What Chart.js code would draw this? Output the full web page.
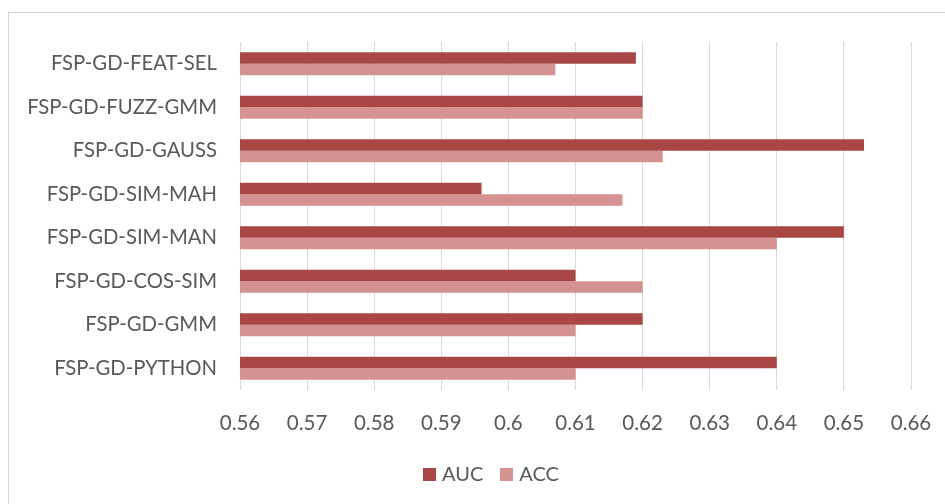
<!DOCTYPE html>
<html>
<head>
<meta charset="utf-8">
<script src="https://cdn.jsdelivr.net/npm/chart.js@4"></script>
<style>
  html, body { margin: 0; padding: 0; background: #fff; }
  #wrap { position: relative; width: 945px; height: 504px; overflow: hidden; }
  #frame { position: absolute; left: 8px; top: 12px; width: 1200px; height: 1200px;
           border: 1px solid #d6d6d6; box-sizing: border-box; }
  canvas { position: absolute; left: 0; top: 0; }
</style>
</head>
<body>
<div id="wrap">
  <div id="frame"></div>
  <canvas id="c" width="945" height="504"></canvas>
</div>
<script>
const categories = [
  'FSP-GD-FEAT-SEL',
  'FSP-GD-FUZZ-GMM',
  'FSP-GD-GAUSS',
  'FSP-GD-SIM-MAH',
  'FSP-GD-SIM-MAN',
  'FSP-GD-COS-SIM',
  'FSP-GD-GMM',
  'FSP-GD-PYTHON'
];
const aucValues = [0.619, 0.620, 0.653, 0.596, 0.650, 0.610, 0.620, 0.640];
const accValues = [0.607, 0.620, 0.623, 0.617, 0.640, 0.620, 0.610, 0.610];
const seriesNames = ['AUC', 'ACC'];
const xMin = 0.56, xMax = 0.66, xStep = 0.01;

const textColor = '#595959';
const fontFamily = 'Lato, "Open Sans", sans-serif';

// Series key drawn below the x axis.
const bottomLegend = {
  id: 'bottomLegend',
  afterDraw(chart) {
    const ctx = chart.ctx;
    const box = 13, textGap = 6, itemGap = 17;
    ctx.save();
    ctx.font = '20px ' + fontFamily;
    const items = chart.data.datasets.map(ds => ({
      label: ds.label, color: ds.backgroundColor, w: ctx.measureText(ds.label).width
    }));
    const total = items.reduce((a, it) => a + box + textGap + it.w, 0) + itemGap * (items.length - 1);
    const centerX = 491;
    const cy = chart.chartArea.bottom + 84;
    let x = centerX - total / 2;
    ctx.textBaseline = 'middle';
    ctx.textAlign = 'left';
    for (const it of items) {
      ctx.fillStyle = it.color;
      ctx.fillRect(Math.round(x), Math.round(cy - box / 2), box, box);
      ctx.fillStyle = textColor;
      ctx.fillText(it.label, x + box + textGap, cy + 1);
      x += box + textGap + it.w + itemGap;
    }
    ctx.restore();
  }
};

new Chart(document.getElementById('c'), {
  type: 'bar',
  data: {
    labels: categories,
    datasets: [
      { label: seriesNames[0], data: aucValues, backgroundColor: '#A94745' },
      { label: seriesNames[1], data: accValues, backgroundColor: '#D49291' }
    ]
  },
  options: {
    indexAxis: 'y',
    responsive: false,
    animation: false,
    devicePixelRatio: 1,
    layout: { padding: { top: 42, right: 34, bottom: 52, left: 0 } },
    datasets: { bar: { categoryPercentage: 0.53, barPercentage: 1.0 } },
    scales: {
      x: {
        min: xMin, max: xMax,
        border: { display: false },
        grid: { color: '#d9d9d9', lineWidth: 1, drawTicks: false },
        ticks: {
          stepSize: xStep,
          padding: 21,
          color: textColor,
          font: { family: fontFamily, size: 20.5 },
          callback: v => String(Number(v.toFixed(2)))
        },
        afterFit: s => { s.height = 62; s.paddingLeft = 0; s.paddingRight = 0; }
      },
      y: {
        border: { display: false },
        grid: { display: false, drawTicks: false },
        ticks: {
          padding: 23,
          color: textColor,
          font: { family: fontFamily, size: 20.3 }
        },
        afterFit: s => { s.width = 240; s.paddingTop = 0; s.paddingBottom = 0; }
      }
    },
    plugins: {
      legend: { display: false },
      tooltip: { enabled: false }
    }
  },
  plugins: [bottomLegend]
});
</script>
</body>
</html>
